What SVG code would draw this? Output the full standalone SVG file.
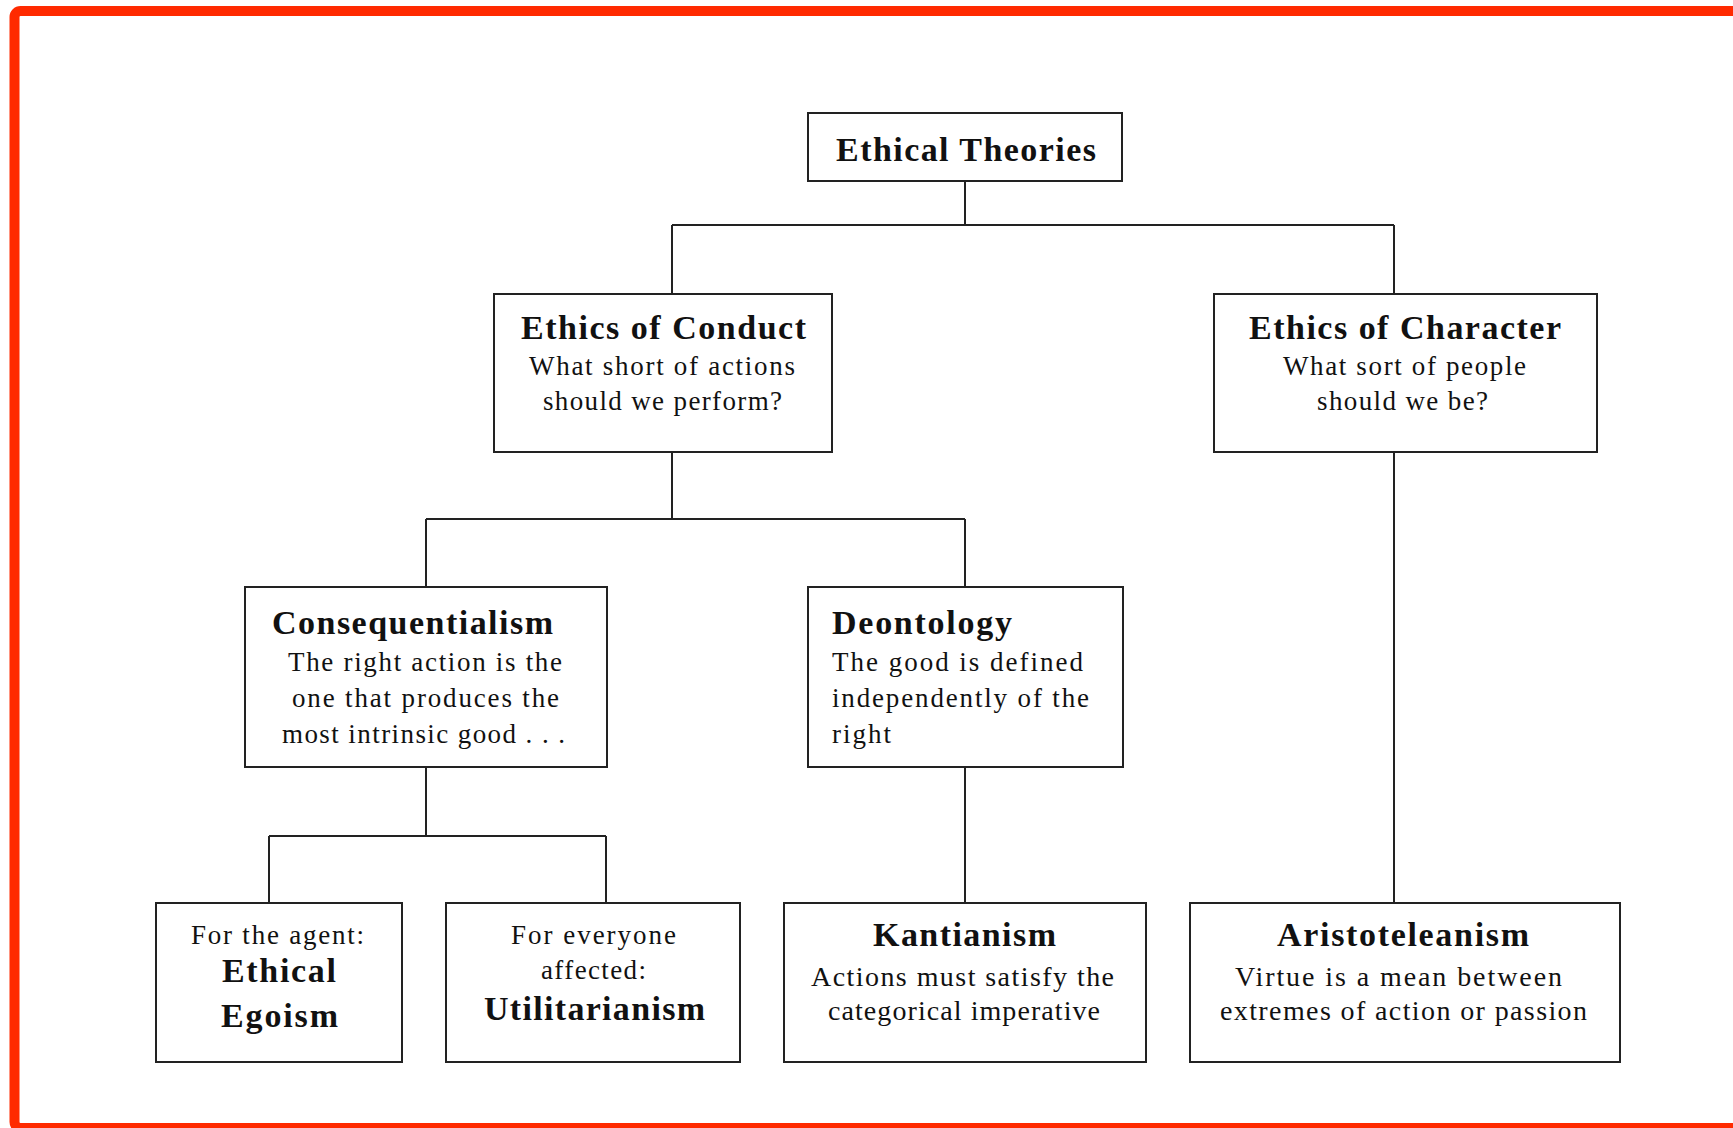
<svg xmlns="http://www.w3.org/2000/svg" width="1733" height="1128" viewBox="0 0 1733 1128">
<style>
.box{fill:#fff;stroke:#222;stroke-width:2}
.ln{fill:none;stroke:#222;stroke-width:2}
text{font-family:"Liberation Serif","Times New Roman",serif;fill:#111}
.t{font-size:34px;font-weight:bold}
.s{font-size:27px}
.s2{font-size:28px}
</style>
<rect width="1733" height="1128" fill="#fff"/>
<rect x="14.5" y="11" width="1800" height="1117" rx="6" fill="none" stroke="#ff2a00" stroke-width="10"/>
<g id="connectors" class="ln">
<path d="M965 181V225M672 225H1394M672 225V294M1394 225V294"/>
<path d="M672 452V519M426 519H965M426 519V587M965 519V587"/>
<path d="M1394 452V903"/>
<path d="M426 767V836M269 836H606M269 836V903M606 836V903"/>
<path d="M965 767V903"/>
</g>
<g id="ethical-theories">
<rect class="box" x="808" y="113" width="314" height="68"/>
<text class="t" x="836" y="161" textLength="260" lengthAdjust="spacing">Ethical Theories</text>
</g>
<g id="ethics-of-conduct">
<rect class="box" x="494" y="294" width="338" height="158"/>
<text class="t" x="521" y="339" textLength="285" lengthAdjust="spacing">Ethics of Conduct</text>
<text class="s" x="529" y="375" textLength="266" lengthAdjust="spacing">What short of actions</text>
<text class="s" x="543" y="410" textLength="239" lengthAdjust="spacing">should we perform?</text>
</g>
<g id="ethics-of-character">
<rect class="box" x="1214" y="294" width="383" height="158"/>
<text class="t" x="1249" y="339" textLength="312" lengthAdjust="spacing">Ethics of Character</text>
<text class="s" x="1283" y="375" textLength="243" lengthAdjust="spacing">What sort of people</text>
<text class="s" x="1317" y="410" textLength="171" lengthAdjust="spacing">should we be?</text>
</g>
<g id="consequentialism">
<rect class="box" x="245" y="587" width="362" height="180"/>
<text class="t" x="272" y="634" textLength="281" lengthAdjust="spacing">Consequentialism</text>
<text class="s" x="288" y="671" textLength="274" lengthAdjust="spacing">The right action is the</text>
<text class="s" x="292" y="707" textLength="267" lengthAdjust="spacing">one that produces the</text>
<text class="s" x="282" y="743" textLength="283" lengthAdjust="spacing">most intrinsic good . . .</text>
</g>
<g id="deontology">
<rect class="box" x="808" y="587" width="315" height="180"/>
<text class="t" x="832" y="634" textLength="180" lengthAdjust="spacing">Deontology</text>
<text class="s" x="832" y="671" textLength="251" lengthAdjust="spacing">The good is defined</text>
<text class="s" x="832" y="707" textLength="257" lengthAdjust="spacing">independently of the</text>
<text class="s" x="832" y="743" textLength="59" lengthAdjust="spacing">right</text>
</g>
<g id="ethical-egoism">
<rect class="box" x="156" y="903" width="246" height="159"/>
<text class="s" x="191" y="944" textLength="173" lengthAdjust="spacing">For the agent:</text>
<text class="t" x="222" y="982" textLength="114" lengthAdjust="spacing">Ethical</text>
<text class="t" x="221" y="1027" textLength="117" lengthAdjust="spacing">Egoism</text>
</g>
<g id="utilitarianism">
<rect class="box" x="446" y="903" width="294" height="159"/>
<text class="s" x="511" y="944" textLength="165" lengthAdjust="spacing">For everyone</text>
<text class="s" x="541" y="979" textLength="105" lengthAdjust="spacing">affected:</text>
<text class="t" x="484" y="1020" textLength="221" lengthAdjust="spacing">Utilitarianism</text>
</g>
<g id="kantianism">
<rect class="box" x="784" y="903" width="362" height="159"/>
<text class="t" x="873" y="946" textLength="183" lengthAdjust="spacing">Kantianism</text>
<text class="s2" x="811" y="986" textLength="303" lengthAdjust="spacing">Actions must satisfy the</text>
<text class="s2" x="828" y="1020" textLength="272" lengthAdjust="spacing">categorical imperative</text>
</g>
<g id="aristoteleanism">
<rect class="box" x="1190" y="903" width="430" height="159"/>
<text class="t" x="1277" y="946" textLength="252" lengthAdjust="spacing">Aristoteleanism</text>
<text class="s2" x="1235" y="986" textLength="327" lengthAdjust="spacing">Virtue is a mean between</text>
<text class="s2" x="1220" y="1020" textLength="367" lengthAdjust="spacing">extremes of action or passion</text>
</g>
</svg>
